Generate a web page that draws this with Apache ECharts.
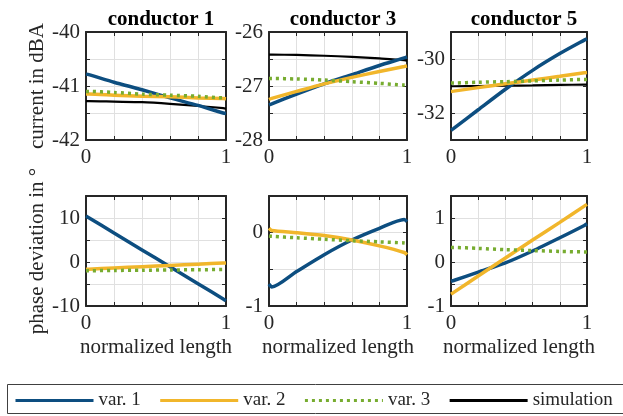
<!DOCTYPE html>
<html>
<head>
<meta charset="utf-8">
<script src="https://cdn.jsdelivr.net/npm/echarts@6/dist/echarts.min.js"></script>
<style>
  html, body { margin: 0; padding: 0; background: #fff; }
  #chart { width: 623px; height: 416px; }
</style>
</head>
<body>
<div id="chart"></div>
<script>
// x positions (normalized length)
var xs = [0, 0.02, 0.2, 0.4, 0.6, 0.8, 0.98, 1];

// current in dBA
var c1Var1 = [-40.78, -40.79, -40.93, -41.07, -41.22, -41.36, -41.50, -41.51];
var c1Var2 = [-41.15, -41.15, -41.17, -41.19, -41.20, -41.22, -41.23, -41.235];
var c1Var3 = [-41.10, -41.10, -41.12, -41.15, -41.17, -41.19, -41.22, -41.22];
var c1Sim  = [-41.28, -41.28, -41.29, -41.30, -41.33, -41.37, -41.41, -41.42];

var c3Var1 = [-27.35, -27.33, -27.15, -26.96, -26.79, -26.62, -26.48, -26.46];
var c3Var2 = [-27.25, -27.23, -27.10, -26.96, -26.84, -26.73, -26.64, -26.63];
var c3Var3 = [-26.86, -26.86, -26.87, -26.89, -26.92, -26.95, -26.98, -26.98];
var c3Sim  = [-26.42, -26.42, -26.425, -26.44, -26.46, -26.49, -26.52, -26.53];

var c5Var1 = [-32.64, -32.57, -31.88, -31.12, -30.42, -29.80, -29.30, -29.25];
var c5Var2 = [-31.20, -31.19, -31.06, -30.92, -30.78, -30.64, -30.51, -30.50];
var c5Var3 = [-30.89, -30.89, -30.86, -30.84, -30.81, -30.78, -30.76, -30.76];
var c5Sim  = [-31.01, -31.01, -31.00, -30.99, -30.98, -30.96, -30.95, -30.95];

// phase deviation in degree
var p1Var1 = [10.45, 10.07, 6.6, 2.75, -1.1, -4.95, -8.4, -8.8];
var p1Var2 = [-1.65, -1.62, -1.36, -1.07, -0.78, -0.49, -0.23, -0.2];
var p1Var3 = [-1.98, -1.98, -1.92, -1.87, -1.81, -1.76, -1.71, -1.7];

var p3Var1 = [-0.70, -0.74, -0.53, -0.30, -0.10, 0.06, 0.18, 0.15];
var p3Var2 = [0.06, 0.03, 0.00, -0.04, -0.10, -0.18, -0.27, -0.30];
var p3Var3 = [-0.045, -0.05, -0.07, -0.09, -0.11, -0.125, -0.14, -0.145];

var p5Var1 = [-0.44, -0.42, -0.23, -0.02, 0.25, 0.55, 0.83, 0.87];
var p5Var2 = [-0.73, -0.69, -0.32, 0.09, 0.50, 0.90, 1.27, 1.31];
var p5Var3 = [0.33, 0.33, 0.31, 0.28, 0.26, 0.24, 0.23, 0.23];

// axes
var titles = ['conductor 1', 'conductor 3', 'conductor 5'];
var yMin = [-42, -28, -33, -10, -1, -1];
var yMax = [-40, -26, -29, 15, 0.5, 1.5];
var yStep = [0.5, 0.5, 1, 5, 0.5, 0.5];
var yLabelStep = [1, 1, 2, 10, 1, 1];
var seriesNames = ['var. 1', 'var. 2', 'var. 3', 'simulation'];

var panelData = [
    [c1Var1, c1Var2, c1Var3, c1Sim],
    [c3Var1, c3Var2, c3Var3, c3Sim],
    [c5Var1, c5Var2, c5Var3, c5Sim],
    [p1Var1, p1Var2, p1Var3],
    [p3Var1, p3Var2, p3Var3],
    [p5Var1, p5Var2, p5Var3]
];

var FONT = 'Liberation Serif';
var FS = 21;
var TXT = '#262626';
var colors = ['#0d4e80', '#f1b62b', '#77ac30', '#000000'];
var widths = [3.5, 3.5, 3.5, 2.2];

var gLeft = [86, 269, 451], gWidth = [140, 138, 136];
var gTop = [32, 196], gHeight = [108, 110];

function onStep(v, step) {
    var r = v / step;
    return Math.abs(r - Math.round(r)) < 1e-6;
}

var grids = [], xAxes = [], yAxes = [], series = [], titleArr = [];
for (var p = 0; p < 6; p++) {
    var col = p % 3, row = Math.floor(p / 3);
    grids.push({left: gLeft[col], width: gWidth[col], top: gTop[row], height: gHeight[row]});
    var lineSt = {show: true, onZero: false, lineStyle: {color: TXT, width: 2}};
    var tickSt = {show: true, inside: true, length: 4, lineStyle: {color: TXT, width: 1}};
    xAxes.push({
        gridIndex: p, type: 'value', min: 0, max: 1, interval: 0.2, position: 'bottom',
        axisLine: lineSt, axisTick: tickSt,
        splitLine: {show: true, lineStyle: {color: '#e0e0e0', width: 1}},
        axisLabel: {
            fontFamily: FONT, fontSize: FS, color: TXT, margin: 7,
            formatter: function (v) { return (v === 0 || v === 1) ? String(v) : ''; }
        },
        name: row === 1 ? 'normalized length' : '',
        nameLocation: 'middle', nameGap: 31,
        nameTextStyle: {fontFamily: FONT, fontSize: FS, color: TXT}
    });
    xAxes.push({
        gridIndex: p, type: 'value', min: 0, max: 1, interval: 0.2, position: 'top',
        axisLine: lineSt, axisTick: tickSt, splitLine: {show: false}, axisLabel: {show: false}
    });
    (function (ls) {
        yAxes.push({
            gridIndex: p, type: 'value', min: yMin[p], max: yMax[p], interval: yStep[p], position: 'left',
            axisLine: lineSt, axisTick: tickSt,
            splitLine: {show: true, lineStyle: {color: '#e0e0e0', width: 1}},
            axisLabel: {
                fontFamily: FONT, fontSize: FS, color: TXT, margin: 6,
                formatter: function (v) { return onStep(v, ls) ? String(v) : ''; }
            },
            name: col === 0 ? (row === 0 ? 'current in dBA' : 'phase deviation in °') : '',
            nameLocation: 'middle', nameRotate: 90, nameGap: 38,
            nameTextStyle: {fontFamily: FONT, fontSize: FS, color: TXT}
        });
    })(yLabelStep[p]);
    yAxes.push({
        gridIndex: p, type: 'value', min: yMin[p], max: yMax[p], interval: yStep[p], position: 'right',
        axisLine: lineSt, axisTick: tickSt, splitLine: {show: false}, axisLabel: {show: false}
    });
    if (row === 0) {
        titleArr.push({
            text: titles[col], left: gLeft[col] + gWidth[col] / 2, top: 4, textAlign: 'center',
            textStyle: {fontFamily: FONT, fontSize: FS, fontWeight: 'bold', color: '#000'}
        });
    }
    panelData[p].forEach(function (vals, k) {
        series.push({
            name: seriesNames[k], type: 'line',
            xAxisIndex: p * 2, yAxisIndex: p * 2,
            symbol: 'none', smooth: 0.25, silent: true,
            z: k === 2 ? 4 : (k === 3 ? 2 : 3),
            lineStyle: {color: colors[k], width: widths[k], type: k === 2 ? [3, 4] : 'solid', cap: 'butt'},
            itemStyle: {color: colors[k]},
            data: xs.map(function (x, i) { return [x, vals[i]]; })
        });
    });
}

var chart = echarts.init(document.getElementById('chart'), null, {renderer: 'canvas'});
chart.setOption({
    animation: false,
    backgroundColor: '#fff',
    title: titleArr,
    grid: grids,
    xAxis: xAxes,
    yAxis: yAxes,
    legend: {
        data: seriesNames, left: 9, top: 386, width: 610,
        itemWidth: 78, itemHeight: 14, itemGap: 18,
        itemStyle: {opacity: 0},
        lineStyle: {width: 3},
        textStyle: {fontFamily: FONT, fontSize: 19, color: TXT}
    },
    graphic: [{
        type: 'rect', left: 5, top: 382,
        shape: {width: 616, height: 29},
        style: {fill: 'none', stroke: '#404040', lineWidth: 1}
    }],
    series: series
});
</script>
</body>
</html>
